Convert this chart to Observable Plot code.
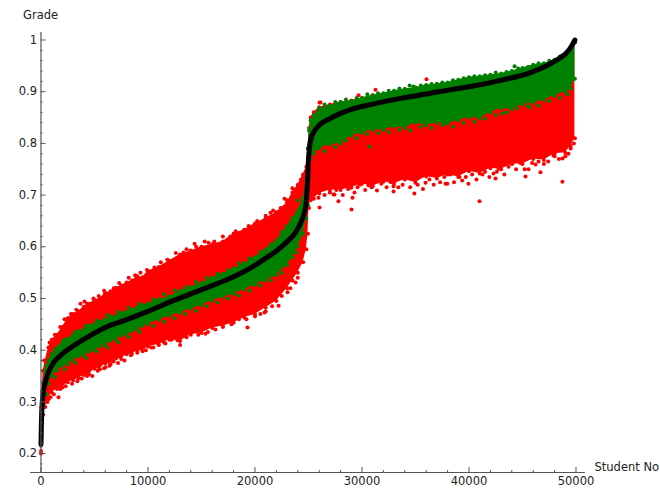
<!DOCTYPE html>
<html><head><meta charset="utf-8">
<style>html,body{margin:0;padding:0;background:#fff}svg{display:block}</style>
<script src="https://cdn.jsdelivr.net/npm/d3@7"></script>
<script src="https://cdn.jsdelivr.net/npm/@observablehq/plot@0.6"></script>
</head><body><div id="c"></div>
<script>
const students = [0,50,100,200,400,700,1000,1500,2000,2500,3000,3500,4000,4500,5000,5500,6000,6500,7000,7500,8000,8500,9000,9500,10000,11000,12000,13000,14000,15000,16000,17000,18000,19000,20000,21000,22000,23000,23500,24000,24500,24800,24950,25050,25200,25500,26000,27000,28000,29000,30000,31000,32000,33000,34000,35000,36000,37000,38000,39000,40000,41000,42000,43000,44000,45000,46000,47000,48000,49000,49500,49900];
const redUpper = [.24,.29,.32,.36,.38,.405,.42,.43,.445,.462,.47,.475,.484,.49,.497,.5,.51,.514,.521,.525,.531,.535,.543,.541,.553,.561,.573,.585,.592,.6,.605,.61,.625,.633,.645,.655,.667,.685,.705,.72,.74,.755,.79,.83,.85,.86,.87,.875,.88,.883,.888,.893,.896,.90,.905,.906,.91,.915,.917,.92,.925,.928,.93,.932,.938,.94,.948,.952,.96,.97,.978,.995];
const greenUpper = [.225,.28,.305,.335,.36,.38,.392,.405,.416,.422,.43,.437,.44,.448,.45,.456,.46,.465,.466,.472,.475,.478,.483,.487,.49,.498,.504,.515,.522,.53,.54,.548,.558,.568,.58,.595,.612,.64,.655,.67,.695,.73,.79,.825,.845,.855,.868,.873,.88,.882,.888,.893,.897,.902,.905,.908,.913,.915,.918,.923,.928,.93,.933,.935,.94,.946,.952,.955,.962,.972,.98,.995];
const greenLower = [.215,.25,.275,.295,.315,.335,.35,.36,.37,.372,.381,.388,.389,.397,.40,.407,.41,.418,.42,.428,.43,.436,.44,.447,.45,.459,.466,.472,.48,.487,.496,.503,.508,.518,.526,.535,.545,.565,.58,.60,.625,.655,.68,.735,.77,.78,.79,.798,.80,.815,.82,.826,.826,.832,.83,.84,.835,.84,.838,.845,.85,.848,.86,.868,.866,.875,.878,.884,.892,.90,.905,.925];
const redLower = [.205,.24,.26,.275,.29,.305,.318,.325,.328,.338,.342,.345,.352,.353,.364,.363,.374,.373,.384,.383,.392,.393,.40,.398,.407,.411,.42,.418,.43,.433,.443,.447,.453,.463,.469,.482,.495,.52,.535,.55,.57,.595,.625,.675,.69,.693,.703,.71,.71,.714,.722,.717,.726,.722,.73,.724,.736,.732,.74,.735,.746,.742,.752,.75,.76,.76,.77,.768,.78,.782,.795,.81];

const meanStudents = [0,30,80,200,500,1000,2000,3000,4000,5000,6000,8000,10000,12000,14000,16000,18000,20000,21000,22000,23000,23800,24300,24600,24800,24920,25000,25080,25200,25500,26000,27000,28000,29000,30800,33600,36400,38300,40150,42950,45750,47600,48550,49200,49600,49900];
const meanGrade = [.218,.25,.285,.316,.345,.37,.393,.408,.421,.433,.444,.459,.475,.493,.509,.525,.542,.564,.578,.592,.61,.628,.648,.665,.69,.73,.77,.79,.806,.822,.835,.848,.858,.866,.875,.887,.897,.904,.91,.922,.937,.954,.966,.977,.989,1.0];

const redX = [0,3690,4060,3040,2290,6030,7430,1640,890,2760,3970,5720,6780,6030,8080,8730,10500,11630,12850,9490,14350,13320,12570,15650,13970,18460,20230,21450,23040,19110,17430,19300,12760,15370,14250,22200,20890,19860,18830,17060,23040,23790,26030,26780,25370,23500,22760,24530,26030,29020,27800,29110,25930,27340,36030,31260,26120,29680,32950,34900,32950,30600,37980,34250,35940,29580,27430,40980,48730,46680,45280,42480,41260,39950,39360,37810,38280,42290,42760,45560,46220,47900,49300,48730,44070,
26500,27000,27600,28200,28700,29300,29800,30300,30900,31400,31800,32300,32700,33400,33800,34500,35200,35700,36300,36700,37300,37700,38600,39100,39700,40300,40700,41500,41900,42600,43300,43700,44400,44800,45200,45900,46500,47000,47400,48000,48400,49000,49500,49800,
600,1200,1800,2300,2900,3400,3800,4300,4800,5300,5900,6400,7200,7800,8400,9000,9800,10300,11000,11500,12200,13000,13600,14700,15600,16300,17000,17800,18500,19200,20000,20500,21000,21600,22500,23300,24000,
300,800,1300,1800,2200,2800,3300,4300,4900,5400,5900,6800,7300,8200,8800,9300,9900,10600,11200,11800,12600,13600,14500,15300,16200,17000,17700,18200,19400,20200,21000,21700,22400,23000,23700,24300];
const redY = [.2,.49,.494,.469,.448,.51,.512,.309,.309,.347,.365,.384,.378,.367,.396,.401,.405,.413,.419,.413,.606,.589,.575,.608,.593,.626,.645,.666,.686,.63,.608,.444,.419,.432,.442,.486,.473,.481,.467,.461,.512,.531,.879,.869,.848,.713,.693,.738,.676,.672,.688,.695,.695,.701,.924,.904,.879,.893,.707,.703,.717,.719,.722,.734,.724,.715,.701,.688,.726,.744,.736,.732,.74,.722,.728,.722,.74,.742,.751,.75,.759,.777,.78,.771,.761,
.70,.705,.71,.70,.712,.705,.72,.71,.715,.709,.722,.715,.725,.715,.72,.715,.72,.712,.73,.72,.725,.735,.725,.735,.735,.74,.73,.745,.735,.745,.74,.755,.75,.762,.75,.762,.765,.76,.765,.775,.77,.775,.79,.80,
.30,.315,.325,.33,.335,.34,.345,.35,.35,.36,.365,.37,.375,.38,.39,.395,.40,.405,.41,.415,.42,.41,.425,.43,.435,.44,.445,.45,.46,.46,.465,.47,.475,.485,.505,.52,.54,
.38,.415,.43,.445,.46,.47,.478,.49,.50,.505,.515,.52,.53,.54,.545,.55,.555,.56,.57,.575,.588,.595,.60,.61,.61,.62,.62,.63,.64,.65,.66,.67,.675,.69,.71,.73];
const greenX = [30700,37620,43130,45650,34450,44260,23880,22100,23970,
26500,27500,28500,29500,30500,31500,32500,33500,34800,35500,36500,37500,38500,39500,40500,41500,42500,43500,44600,45500,46500,47500,48500,
26500,27500,28500,29500,30500,31500,32500,33500,34500,35500,36500,37500,38500,39500,40500,41500,42500,43500,44500,45500,46500,47500,48500,49200,
500,1300,2200,3200,4200,5200,6200,7200,8200,9200,10500,11500,12500,13500,14500,15500,16500,17500,18500,19500,20500,21500,22500,
500,1300,2200,3200,4200,5200,6200,7200,8200,9200,10500,11500,12500,13500,14500,15500,16500,17500,18500,19500,20500,21500,22500];
const greenY = [.794,.839,.858,.87,.912,.949,.589,.556,.69,
.875,.88,.885,.888,.895,.897,.902,.906,.91,.912,.915,.918,.922,.926,.93,.932,.937,.938,.945,.948,.955,.96,.968,
.785,.793,.805,.81,.818,.82,.822,.826,.825,.832,.83,.835,.832,.84,.842,.848,.855,.86,.868,.872,.873,.882,.888,.895,
.37,.40,.42,.435,.447,.457,.468,.474,.482,.49,.498,.508,.516,.522,.532,.54,.548,.555,.568,.578,.59,.605,.628,
.315,.348,.362,.375,.385,.398,.405,.415,.425,.435,.447,.455,.462,.47,.476,.485,.492,.50,.506,.515,.525,.535,.55];

const yTicks = [.2,.3,.4,.5,.6,.7,.8,.9,1];
const yMinor = [.18,.22,.24,.26,.28,.32,.34,.36,.38,.42,.44,.46,.48,.52,.54,.56,.58,.62,.64,.66,.68,.72,.74,.76,.78,.82,.84,.86,.88,.92,.94,.96,.98];
const xTicks = [0,10000,20000,30000,40000,50000];
const xMinor = [2000,4000,6000,8000,12000,14000,16000,18000,22000,24000,26000,28000,32000,34000,36000,38000,42000,44000,46000,48000];

const band = students.map((x,i)=>({x,ru:redUpper[i],gu:greenUpper[i],gl:greenLower[i],rl:redLower[i]}));
const mean = meanStudents.map((x,i)=>({x,y:meanGrade[i]}));
const redOut = redX.map((x,i)=>({x,y:redY[i]}));
const greenOut = greenX.map((x,i)=>({x,y:greenY[i]}));

const xDom = [-981,50888], yDom = [.1634,1.0145];
const ink = "#555", txt = "#222", font = "DejaVu Sans", fs = 11.5;

const chart = Plot.plot({
  width:660,height:488,marginLeft:30,marginRight:75,marginTop:32,marginBottom:16,
  style:{fontFamily:font,fontSize:fs+"px",background:"#fff"},
  x:{domain:xDom,axis:null},
  y:{domain:yDom,axis:null},
  marks:[
    Plot.areaY(band,{x:"x",y1:"rl",y2:"ru",fill:"#f00"}),
    Plot.dot(band,{x:"x",y:"ru",r:2,fill:"#f00"}),
    Plot.dot(band,{x:"x",y:"rl",r:2,fill:"#f00"}),
    Plot.dot(redOut,{x:"x",y:"y",r:2,fill:"#f00"}),
    Plot.areaY(band,{x:"x",y1:"gl",y2:"gu",fill:"#008000"}),
    Plot.dot(band,{x:"x",y:"gu",r:2,fill:"#008000"}),
    Plot.dot(band,{x:"x",y:"gl",r:2,fill:"#008000"}),
    Plot.dot(greenOut,{x:"x",y:"y",r:2,fill:"#008000"}),
    Plot.line(mean,{x:"x",y:"y",stroke:"#000",strokeWidth:5,strokeLinecap:"round",curve:"monotone-x"}),
    Plot.ruleX([0],{y1:yDom[0],y2:yDom[1],stroke:ink,strokeWidth:1.2}),
    Plot.ruleY([yDom[0]],{x1:xDom[0],x2:xDom[1],stroke:ink,strokeWidth:1.2}),
    Plot.ruleY(yTicks,{x1:0,x2:470,stroke:ink,strokeWidth:1}),
    Plot.ruleY(yMinor,{x1:0,x2:190,stroke:ink,strokeWidth:1}),
    Plot.text(yTicks,{x:()=>0,y:d=>d,text:d=>String(d),dx:-4,textAnchor:"end",fill:txt,fontSize:fs}),
    Plot.ruleX(xTicks,{y1:yDom[0],y2:.1731,stroke:ink,strokeWidth:1}),
    Plot.ruleX(xMinor,{y1:yDom[0],y2:.1673,stroke:ink,strokeWidth:1}),
    Plot.text(xTicks,{x:d=>d,y:()=>yDom[0],text:d=>String(d),dy:9,fill:txt,fontSize:fs}),
    Plot.text(["Grade"],{x:()=>0,y:()=>yDom[1],dx:-18,dy:-17,textAnchor:"start",fill:txt,fontSize:fs}),
    Plot.text(["Student No"],{x:()=>xDom[1],y:()=>yDom[0],dx:9,dy:-5,textAnchor:"start",fill:txt,fontSize:fs})
  ]
});
document.getElementById("c").appendChild(chart);
</script></body></html>
